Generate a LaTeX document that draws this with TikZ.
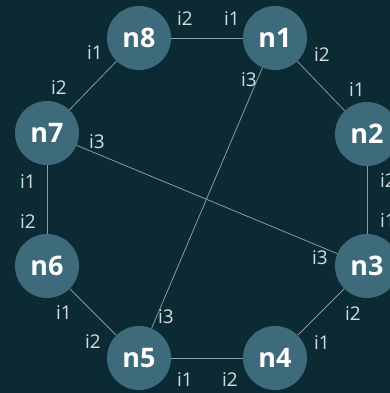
\documentclass[tikz,border=0pt]{standalone}
\usepackage{fontspec}
\setmainfont{Open Sans}
\usetikzlibrary{positioning}

\definecolor{bgdark}{HTML}{0B2A33}
\definecolor{nodefill}{HTML}{3E6B7B}
\definecolor{edgegray}{HTML}{8A9C9C}
\definecolor{labgray}{HTML}{D5DEDE}

\begin{document}
\begin{tikzpicture}[
    x=1bp, y=-1bp,
    % node and edge styles
    netnode/.style={circle, fill=nodefill, minimum size=64bp, inner sep=0pt,
        text=white, font=\fontsize{27}{27}\selectfont\bfseries},
    iflabel/.style={text=labgray, inner sep=0pt, font=\fontsize{19}{19}\selectfont},
    link/.style={draw=edgegray, line width=0.8bp},
]

% background and frame
\fill[bgdark] (0,0) rectangle (390,393);
\useasboundingbox (0,0) rectangle (390,393);

% ============ Nodes ============
\node[netnode] (n1) at (275,38)  {n1};
\node[netnode] (n2) at (367,134) {n2};
\node[netnode] (n3) at (367,266) {n3};
\node[netnode] (n4) at (275,358) {n4};
\node[netnode] (n5) at (139,358) {n5};
\node[netnode] (n6) at (47,266)  {n6};
\node[netnode] (n7) at (47,133)  {n7};
\node[netnode] (n8) at (139,38)  {n8};

% ============ Links ============
\draw[link] (n8) -- (n1);
\draw[link] (n1) -- (n2);
\draw[link] (n2) -- (n3);
\draw[link] (n3) -- (n4);
\draw[link] (n4) -- (n5);
\draw[link] (n5) -- (n6);
\draw[link] (n6) -- (n7);
\draw[link] (n7) -- (n8);
\draw[link] (n1) -- (n5);
\draw[link] (n7) -- (n3);

% ============ Interface labels ============
\node[iflabel] (l81) at (185,19)  {i2};
\node[iflabel] (l18) at (232,19)  {i1};
\node[iflabel] (l12) at (322,55)  {i2};
\node[iflabel] (l15) at (249,80)  {i3};
\node[iflabel] (l21) at (357,90)  {i1};
\node[iflabel] (l23) at (388,181) {i2};
\node[iflabel] (l32) at (388,221) {i1};
\node[iflabel] (l37) at (320,258) {i3};
\node[iflabel] (l34) at (353,314) {i2};
\node[iflabel] (l43) at (322,343) {i1};
\node[iflabel] (l45) at (230,380) {i2};
\node[iflabel] (l54) at (185,380) {i1};
\node[iflabel] (l51) at (166,317) {i3};
\node[iflabel] (l56) at (93,342)  {i2};
\node[iflabel] (l65) at (64,313)  {i1};
\node[iflabel] (l67) at (28,222)  {i2};
\node[iflabel] (l76) at (28,182)  {i1};
\node[iflabel] (l73) at (97,142)  {i3};
\node[iflabel] (l78) at (59,88)   {i2};
\node[iflabel] (l87) at (95,53)   {i1};

\end{tikzpicture}
\end{document}
